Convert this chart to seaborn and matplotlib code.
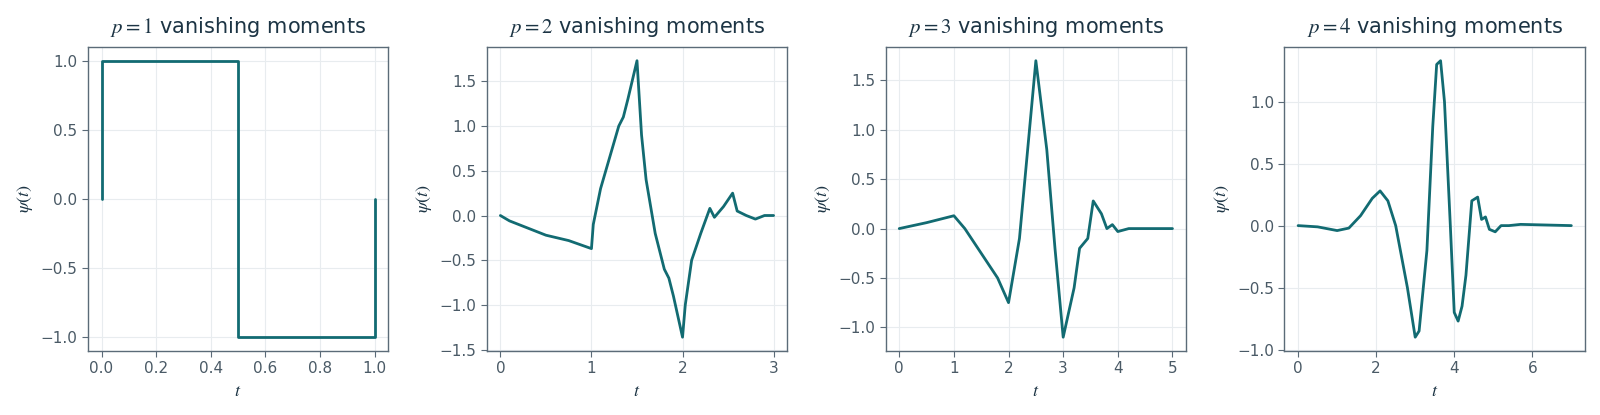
import matplotlib
matplotlib.use("Agg")
import matplotlib.pyplot as plt
from matplotlib.ticker import MultipleLocator
import seaborn as sns
import pandas as pd

sns.set_style("whitegrid")
plt.rcParams['font.family'] = ['DejaVu Sans']
plt.rcParams['mathtext.fontset'] = 'stix'

# values
t1 = [0, 0, 0.5, 0.5, 1, 1]
psi1 = [0, 1, 1, -1, -1, 0]

t2 = [0, 0.1, 0.25, 0.5, 0.75, 1.0, 1.02, 1.1, 1.2, 1.3, 1.35, 1.4, 1.5, 1.55, 1.6, 1.7,
      1.8, 1.85, 1.9, 2.0, 2.03, 2.1, 2.2, 2.3, 2.35, 2.45, 2.55, 2.6, 2.7, 2.8, 2.9, 3.0]
psi2 = [0, -0.06, -0.12, -0.22, -0.28, -0.37, -0.1, 0.3, 0.65, 1.0, 1.1, 1.3, 1.73, 0.9, 0.4, -0.2,
        -0.6, -0.7, -0.9, -1.36, -1.0, -0.5, -0.2, 0.08, -0.02, 0.1, 0.25, 0.05, 0.0, -0.04, 0.0, 0.0]

t3 = [0, 0.5, 1.0, 1.2, 1.5, 1.8, 2.0, 2.2, 2.5, 2.7, 2.85, 3.0, 3.2, 3.3, 3.45, 3.55,
      3.7, 3.8, 3.9, 4.0, 4.2, 5.0]
psi3 = [0, 0.06, 0.13, 0.0, -0.25, -0.5, -0.75, -0.1, 1.7, 0.8, -0.2, -1.1, -0.6, -0.2, -0.1, 0.28,
        0.15, 0.0, 0.04, -0.03, 0.0, 0.0]

t4 = [0, 0.5, 1.0, 1.3, 1.6, 1.9, 2.1, 2.3, 2.5, 2.8, 3.0, 3.1, 3.3, 3.45, 3.55, 3.65, 3.75,
      3.9, 4.0, 4.1, 4.2, 4.3, 4.45, 4.6, 4.7, 4.8, 4.9, 5.05, 5.2, 5.4, 5.7, 7.0]
psi4 = [0, -0.01, -0.04, -0.02, 0.08, 0.22, 0.28, 0.2, 0.0, -0.5, -0.9, -0.85, -0.2, 0.8, 1.3, 1.33, 1.0,
        0.0, -0.7, -0.77, -0.65, -0.4, 0.2, 0.23, 0.05, 0.07, -0.03, -0.05, 0.0, 0.0, 0.01, 0.0]

series = [(1, t1, psi1), (2, t2, psi2), (3, t3, psi3), (4, t4, psi4)]

line_color = '#126b72'
edge = '#5b6b78'
text_color = '#1c3444'

fig, axes = plt.subplots(1, 4, figsize=(16, 4.15), dpi=100)
for ax, (p, t, psi) in zip(axes, series):
    df = pd.DataFrame({'t': t, 'psi': psi})
    sns.lineplot(data=df, x='t', y='psi', ax=ax, color=line_color, linewidth=2,
                 sort=False, estimator=None)
    ax.set_title(f'$p={p}$ vanishing moments', fontsize=15, color=text_color, pad=10)
    ax.set_xlabel('$t$', fontsize=13, color=text_color)
    ax.set_ylabel(r'$\psi(t)$', fontsize=13, color=text_color)
    ax.grid(color='#e8ecef', linewidth=0.8)
    for s in ax.spines.values():
        s.set_color(edge)
        s.set_linewidth(1)
    ax.tick_params(colors=edge, labelcolor='#4a5a66', labelsize=11, length=4,
                   bottom=True, left=True)

axes[0].yaxis.set_major_locator(MultipleLocator(0.5))

plt.tight_layout(w_pad=1.5)
plt.savefig('out.png')
